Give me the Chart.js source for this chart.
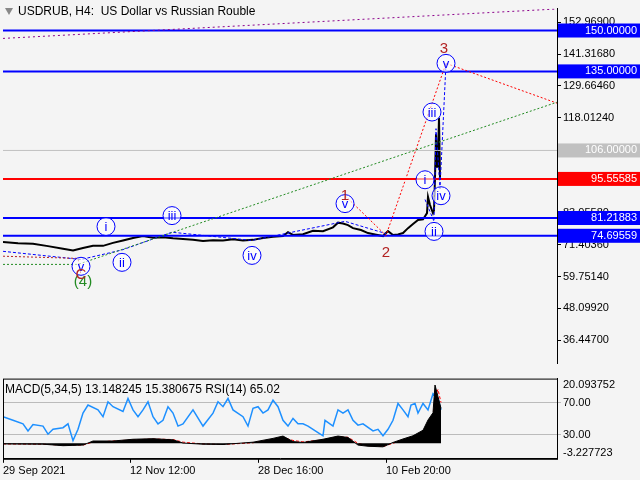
<!DOCTYPE html>
<html><head><meta charset="utf-8">
<script src="https://cdn.jsdelivr.net/npm/chart.js@4"></script>
<style>
body{margin:0;background:#f4f4f4;width:640px;height:480px;overflow:hidden;font-family:"Liberation Sans",sans-serif}
#main{position:absolute;left:0;top:0}
#sub{position:absolute;left:0;top:370px}
</style></head><body>
<canvas id="main" width="640" height="372"></canvas>
<canvas id="sub" width="640" height="110"></canvas>
<script>
// price (close) along the bar axis
const priceX = [0,15,30,45,60,70,80,90,100,110,120,130,140,150,160,170,180,190,200,210,220,230,240,250,260,270,280,285,290,300,310,320,330,335,340,345,350,358,365,372,380,385,390,395,400,405,410,415,420,424,425,427,430,431,432,433,434,435,436,437];
const priceY = [72.4,72.0,71.8,70.9,69.9,69.3,70.2,71.0,71.0,72.1,73.0,73.9,74.6,74.0,74.2,73.8,73.5,73.2,72.8,73.1,73.0,73.4,73.0,73.2,73.9,74.3,74.6,76.0,75.0,75.3,76.5,76.4,77.8,79.5,79.2,78.6,77.5,76.8,75.7,75.2,74.6,76.4,75.0,75.2,75.7,77.5,79.0,80.5,80.7,83.0,89.0,86.0,83.0,84.0,96.0,112.0,100.0,104.0,118.0,96.0];
const priceTicks = [36.447,48.0992,59.7514,71.4036,83.0558,94.708,106.3602,118.0124,129.6646,141.3168,152.969];
const levelPrices = [150.0,135.0,106.0,95.55585,81.21883,74.69559];
const levelColors = ["#0000ff","#0000ff","#c0c0c0","#ff0000","#0000ff","#0000ff"];
const levelLabels = ["150.00000","135.00000","106.00000","95.55585","81.21883","74.69559"];
// wave markers
const waveX = [103,119,169,249,78,342,422,431,429,438,443];
const waveY = [78.1,64.95,82.1,67.5,63.5,86.5,95.25,76.3,120.1,89.4,137.95];
const waveText = ["i","ii","iii","iv","v","v","i","ii","iii","iv","v"];
const tagX = [342,383,441,80,78];
const tagY = [89.4,68.6,143.1,57.65,60.2];
const tagText = ["1","2","3","(4)","C"];
const tagColor = ["#b22222","#b22222","#b22222","#228b22","#b22222"];
// lower panel
const oscX = [0,10,20,25,30,40,45,50,60,65,70,75,80,85,95,100,105,110,120,125,130,135,140,145,150,155,160,165,170,175,180,190,200,210,215,220,225,230,240,245,250,255,260,265,270,275,280,285,290,295,300,305,310,315,320,322,330,335,340,345,350,355,360,370,375,380,385,390,395,400,405,408,412,415,420,425,430,435,438];
const rsi = [52.5,48,43.6,34.7,42.8,40.8,30.7,36.8,38.8,43.6,22.6,36.8,57,67,61,52.5,71.1,65,59,75.2,61,52.5,61,71.1,52.5,43.6,48,65,57,40.8,43.6,61,40.8,57,71.1,65,75.2,61,52.5,40.8,63,65,57,61,73,65,48,40.8,50.3,43.6,43.6,40.8,36.8,32.7,28.7,48,40.8,61,57,61,48,42,43.6,34.7,36.8,28.7,36.8,48,69,61,52.5,67,69,57,69,61,81.2,75.2,61];
const histX = [0,40,60,80,90,110,130,150,170,180,200,220,250,270,280,290,300,320,335,345,355,365,380,390,400,410,420,425,430,432,435,438];
const hist = [-0.2,-0.3,-0.8,-0.6,0.8,0.8,1.4,1.6,1.2,0.1,-0.3,-0.4,0.4,1.7,2.5,0.6,0.3,1.4,2.5,2.0,-0.6,-1.0,-1.2,0.3,1.5,2.6,4.5,8.0,10.5,20.0,16.0,12.0];
const sigY = [-0.2,-0.3,-0.6,-0.6,0.4,0.8,1.2,1.5,1.3,0.4,-0.2,-0.4,0.2,1.3,2.0,1.0,0.5,1.2,2.2,2.1,0.0,-0.8,-1.1,0.0,1.2,2.3,4.0,6.5,9.5,16.0,18.5,14.0];
const dateLabels = ["29 Sep 2021","12 Nov 12:00","28 Dec 16:00","10 Feb 20:00"];
const datePos = [0,127,255,383];

const pts = (xs, ys) => xs.map((x, i) => ({x: x, y: ys[i]}));
const FONT = {family: "Liberation Sans", size: 11};

const levelsPlugin = {
    id: "levels",
    afterDraw(chart) {
        const ctx = chart.ctx, a = chart.chartArea, y = chart.scales.y;
        ctx.save();
        ctx.font = "11px Liberation Sans";
        levelPrices.forEach((p, i) => {
            const py = y.getPixelForValue(p);
            ctx.fillStyle = levelColors[i];
            ctx.fillRect(a.right + 1, py - 7, 82, 14);
            ctx.fillStyle = "#fff";
            ctx.textBaseline = "middle";
            ctx.textAlign = "right";
            ctx.fillText(levelLabels[i], 637, py);
        });
        // wave markers
        const xs = chart.scales.x;
        ctx.textAlign = "center";
        ctx.font = "13px Liberation Sans";
        waveText.forEach((t, i) => {
            const px = xs.getPixelForValue(waveX[i]), py = y.getPixelForValue(waveY[i]);
            ctx.fillStyle = "rgba(255,255,255,0.6)";
            ctx.strokeStyle = "#0000ff";
            ctx.lineWidth = 1;
            ctx.beginPath(); ctx.arc(px, py, 9, 0, Math.PI * 2); ctx.fill(); ctx.stroke();
            ctx.fillStyle = "#0000ff";
            ctx.fillText(t, px, py + 1);
        });
        ctx.font = "15px Liberation Sans";
        tagText.forEach((t, i) => {
            ctx.fillStyle = tagColor[i];
            ctx.fillText(t, xs.getPixelForValue(tagX[i]), y.getPixelForValue(tagY[i]));
        });
        ctx.font = "12px Liberation Sans";
        ctx.textAlign = "left";
        ctx.fillStyle = "#000";
        ctx.fillText("USDRUB, H4:  US Dollar vs Russian Rouble", 18, 12);
        ctx.fillStyle = "#888";
        ctx.beginPath(); ctx.moveTo(5, 8); ctx.lineTo(13, 8); ctx.lineTo(9, 15); ctx.fill();
        ctx.restore();
    }
};

const lineDs = (data, color, width, dash) => ({
    data: data, borderColor: color, borderWidth: width, borderDash: dash || [],
    showLine: true, pointRadius: 0, tension: 0
});

new Chart(document.getElementById("main"), {
    type: "scatter",
    data: {
        datasets: [
            lineDs([{x: 0, y: 147.1}, {x: 554, y: 157.9}], "#8b008b", 1, [2, 3]),
            lineDs([{x: 0, y: 64.2}, {x: 75, y: 64.2}, {x: 554, y: 123.7}], "#228b22", 1, [2, 2]),
            lineDs([{x: 0, y: 67.2}, {x: 75, y: 66.4}, {x: 78, y: 60.2}], "#b22222", 1, [2, 2]),
            lineDs([{x: 342, y: 89.4}, {x: 383, y: 74.8}, {x: 443, y: 137.95}, {x: 554, y: 123.35}], "#ff0000", 1, [2, 2]),
            lineDs([{x: 0, y: 69.0}, {x: 78, y: 66.0}, {x: 119, y: 69.5}, {x: 169, y: 76.0}, {x: 249, y: 73.0}, {x: 342, y: 80.0}, {x: 383, y: 75.5}], "#0000ff", 1, [3, 2]),
            lineDs([{x: 422, y: 88.0}, {x: 431, y: 80.0}, {x: 433, y: 114.0}, {x: 437, y: 92.0}, {x: 443, y: 137.95}], "#0000ff", 1, [3, 2]),
            ...levelPrices.map((p, i) => lineDs([{x: 0, y: p}, {x: 554, y: p}], levelColors[i], i === 2 ? 1 : 2)),
            lineDs(pts(priceX, priceY), "#000", 2)
        ]
    },
    options: {
        animation: false, responsive: false,
        layout: {padding: {left: 3, top: 0, bottom: 0}},
        plugins: {legend: {display: false}, tooltip: {enabled: false}},
        scales: {
            x: {type: "linear", min: 0, max: 554, display: false},
            y: {
                position: "right", min: 27.88, max: 158.04,
                afterBuildTicks: s => { s.ticks = priceTicks.map(v => ({value: v})); },
                afterFit: s => { s.width = 83; },
                ticks: {font: FONT, color: "#000", padding: 2, callback: v => v.toFixed(5)},
                grid: {drawOnChartArea: false, tickLength: 4, color: "#000"},
                border: {color: "#000"}
            }
        }
    },
    plugins: [levelsPlugin]
});

const subPlugin = {
    id: "sub",
    afterDraw(chart) {
        const ctx = chart.ctx, a = chart.chartArea;
        ctx.save();
        ctx.strokeStyle = "#000"; ctx.lineWidth = 1;
        ctx.strokeRect(a.left + 0.5, a.top + 0.5, a.right - a.left, a.bottom - a.top);
        ctx.font = "12px Liberation Sans"; ctx.fillStyle = "#000"; ctx.textBaseline = "middle";
        ctx.fillText("MACD(5,34,5) 13.148245 15.380675 RSI(14) 65.02", 5, a.top + 11);
        ctx.font = "11px Liberation Sans";
        [["20.093752", 20.093752], ["-3.227723", -3.227723]].forEach(([t, v]) => {
            ctx.fillText(t, a.right + 6, chart.scales.m.getPixelForValue(v));
        });
        ctx.restore();
    }
};

new Chart(document.getElementById("sub"), {
    type: "scatter",
    data: {
        datasets: [
            Object.assign(lineDs(pts(histX, hist), "#000", 1), {fill: "origin", backgroundColor: "#000", yAxisID: "m"}),
            Object.assign(lineDs(pts(histX, sigY), "#ff0000", 1, [3, 2]), {yAxisID: "m"}),
            Object.assign(lineDs(pts(oscX, rsi), "#1e90ff", 1.5), {yAxisID: "y"})
        ]
    },
    options: {
        animation: false, responsive: false,
        layout: {padding: {left: 3, top: 2, bottom: 0}},
        plugins: {legend: {display: false}, tooltip: {enabled: false}},
        scales: {
            x: {
                type: "linear", min: 0, max: 554,
                afterBuildTicks: s => { s.ticks = datePos.map(v => ({value: v})); },
                ticks: {font: FONT, color: "#000", align: "start", maxRotation: 0, padding: 2,
                    callback: (v) => dateLabels[datePos.indexOf(v)]},
                grid: {drawOnChartArea: false, tickLength: 4, color: "#000"},
                border: {color: "#000"}
            },
            y: {
                position: "right", min: 0, max: 100,
                afterBuildTicks: s => { s.ticks = [{value: 30}, {value: 70}]; },
                afterFit: s => { s.width = 83; },
                ticks: {font: FONT, color: "#000", padding: 2, callback: v => v.toFixed(2)},
                grid: {color: "#bbb", borderDash: [4, 3], tickLength: 4},
                border: {color: "#000"}
            },
            m: {position: "right", min: -5.3, max: 22.2, display: false}
        }
    },
    plugins: [subPlugin]
});
</script>
</body></html>
